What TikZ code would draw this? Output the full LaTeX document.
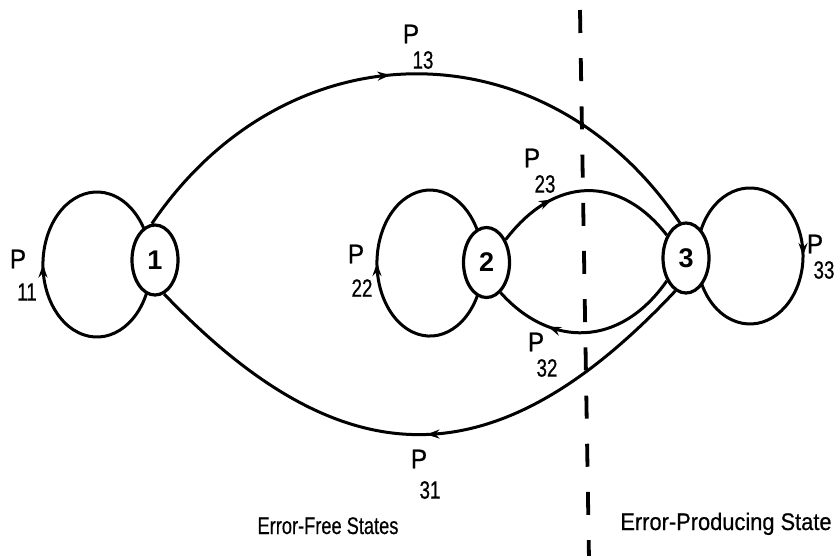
\documentclass[tikz,border=0pt]{standalone}
\usepackage{fontspec}
\setmainfont{Liberation Sans}
\newfontfamily\pfont[FakeStretch=0.9,FakeBold=0.6]{Liberation Sans}
\newfontfamily\dfont[FakeStretch=0.75,FakeBold=0.6]{Liberation Sans}
\newfontfamily\bfont[FakeStretch=0.76,FakeBold=0.5]{Liberation Sans}
\newfontfamily\cfont[FakeStretch=0.91,FakeBold=0.5]{Liberation Sans}
\usetikzlibrary{arrows.meta,decorations.markings,shapes.geometric}
\pgfdeclarelayer{bg}
\pgfsetlayers{bg,main}
\tikzset{
  state/.style={ellipse,draw,line width=3.2pt,minimum width=46pt,minimum height=70pt,
    inner sep=0pt,fill=white,font=\fontsize{27}{27}\selectfont\bfseries},
  trans/.style={line width=3pt},
  midarrow/.style={postaction={decorate},decoration={markings,
    mark=at position #1 with {\arrow{Stealth[length=13pt,width=9pt]}}}},
  plab/.style={inner sep=0pt,font=\pfont\fontsize{27}{27}\selectfont},
  dlab/.style={inner sep=0pt,font=\dfont\fontsize{25}{25}\selectfont},
  divider/.style={line width=3.8pt,dash pattern=on 23pt off 25.2pt},
  caption/.style={anchor=base,inner sep=0pt}
}
\begin{document}
\begin{tikzpicture}[x=1pt,y=-1pt]
\useasboundingbox (0,0) rectangle (837,555);
% states
\node[state] (n1) at (155,260) {1};
\node[state] (n2) at (486.5,262.5) {2};
\node[state] (n3) at (686,258) {3};
\begin{pgfonlayer}{bg}
% transitions between states
\draw[trans,midarrow=0.46] (n1.95) .. controls (287,24) and (546,24) .. (n3.100);
\draw[trans,midarrow=0.49] (n3.252) .. controls (496,482) and (344,482) .. (n1.285);
\draw[trans,midarrow=0.32] (n2.50) .. controls (555,175) and (620,175) .. (n3.130);
\draw[trans,midarrow=0.70] (n3.230) .. controls (620,348) and (550,348) .. (n2.295);
% self loops
\draw[trans,midarrow=0.5] (147.7,289.3) arc[start angle=20,end angle=340,x radius=54,y radius=72.5];
\draw[trans,midarrow=0.5] (478.0,293.9) arc[start angle=25,end angle=335,x radius=53,y radius=73];
\draw[trans,midarrow=0.5] (700.2,232.7) arc[start angle=200,end angle=520,x radius=53,y radius=68];
\end{pgfonlayer}
% divider
\coordinate (dtop) at (580,10);
\coordinate (dbot) at (589,560);
\draw[divider] (dtop) -- (dbot);
% labels
\node[plab] (p13) at (411,34) {P};
\node[dlab] (s13) at (423,60) {13};
\node[plab] (p11) at (18,259) {P};
\node[dlab] (s11) at (27,292) {11};
\node[plab] (p22) at (356,254) {P};
\node[dlab] (s22) at (362,288) {22};
\node[plab] (p23) at (532,158) {P};
\node[dlab] (s23) at (545,184) {23};
\node[plab] (p32) at (536,342) {P};
\node[dlab] (s32) at (547,368) {32};
\node[plab] (p33) at (815,244) {P};
\node[dlab] (s33) at (824,270) {33};
\node[plab] (p31) at (419,459) {P};
\node[dlab] (s31) at (430,490) {31};
% captions
\node[caption,font=\bfont\fontsize{24}{24}\selectfont] (cap1) at (328,534) {Error-Free States};
\node[caption,font=\cfont\fontsize{24}{24}\selectfont] (cap2) at (726,530) {Error-Producing State};
\end{tikzpicture}
\end{document}
